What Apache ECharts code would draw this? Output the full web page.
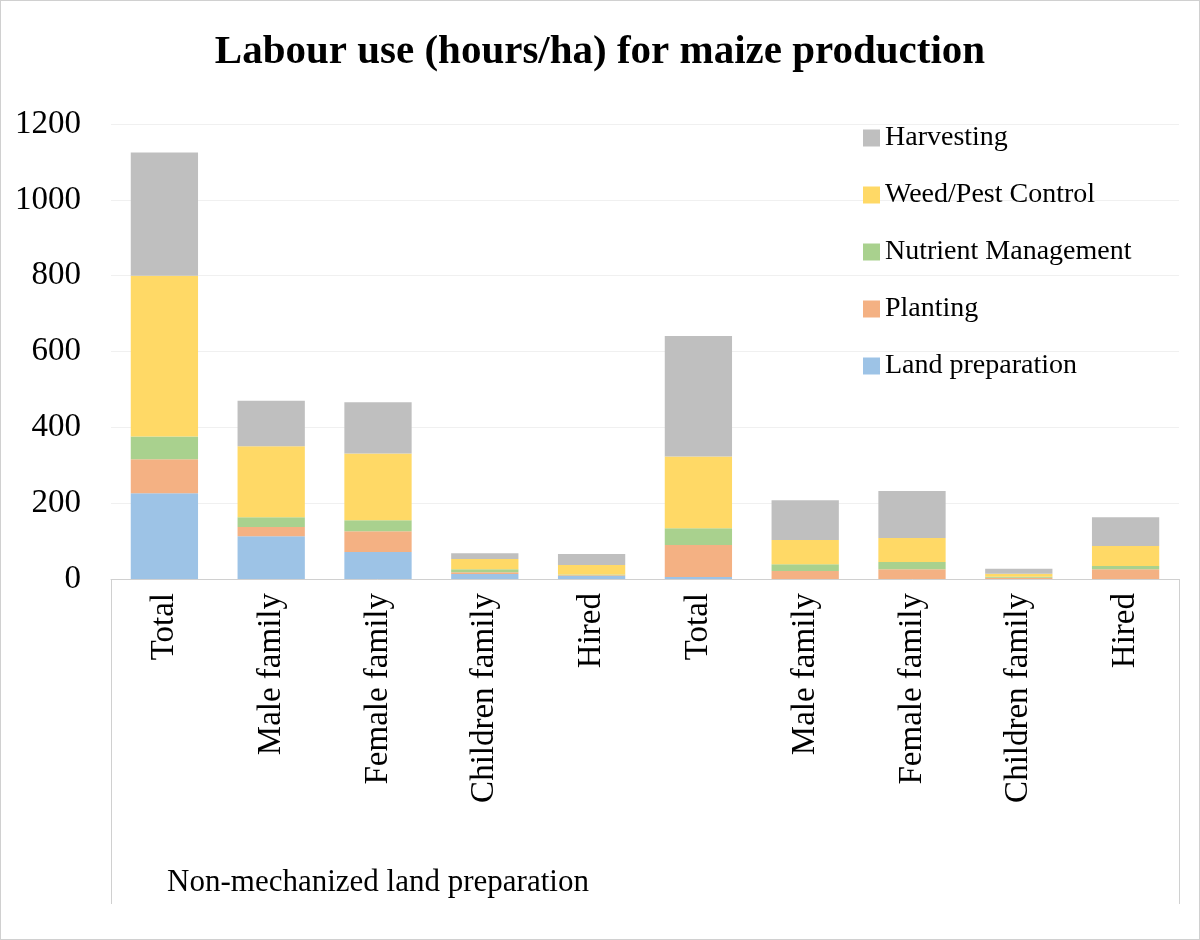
<!DOCTYPE html>
<html><head><meta charset="utf-8">
<script src="https://cdn.jsdelivr.net/npm/echarts@6/dist/echarts.min.js"></script>
<style>html,body{margin:0;padding:0;background:#fff}#c{width:1200px;height:940px;box-sizing:border-box;border:1px solid #d0d0d0}</style>
</head><body><div id="c"></div>
<script>
const categories = ['Total','Male family','Female family','Children family','Hired','Total','Male family','Female family','Children family','Hired'];
const groups = ['Non-mechanized land preparation','Mechanized land preparation'];
const landPrep = [226,113,71,13,8, 5,0,0,0,0];
const planting = [90,24,55,5,2, 85,21,26,3,26];
const nutrient = [60,26,29,8,2, 44,18,19,3,8];
const weedPest = [424,187,176,27,25, 189,64,63,8,53];
const harvesting = [325,120,135,15,29, 318,105,124,13,76];
const yTicks = [0,200,400,600,800,1000,1200];

const F = '"Liberation Serif","Times New Roman",serif';
const chart = echarts.init(document.getElementById('c'));
const mk = (name, data, color) => ({name, type:'bar', stack:'s', data, barCategoryGap:'37%', itemStyle:{color}, xAxisIndex:0});
chart.setOption({
  animation:false,
  title:{text:'Labour use (hours/ha) for maize production', left:'center', top:26, textStyle:{fontFamily:F, fontSize:41, fontWeight:'bold', color:'#000'}},
  legend:{orient:'vertical', left:857, top:118, itemGap:29, itemWidth:17, itemHeight:17, icon:'rect',
    data:['Harvesting','Weed/Pest Control','Nutrient Management','Planting','Land preparation'],
    textStyle:{fontFamily:F, fontSize:28, color:'#000'}},
  grid:{left:110, right:20, top:123, bottom:360},
  xAxis:[
    {type:'category', data:categories, axisLine:{lineStyle:{color:'#d0d0d0'}}, axisTick:{show:false},
     axisLabel:{rotate:90, fontFamily:F, fontSize:33, color:'#000', margin:14}},
    {type:'category', data:groups, position:'bottom', offset:0, axisLine:{show:false},
     axisTick:{show:true, length:325, lineStyle:{color:'#d0d0d0'}},
     axisLabel:{fontFamily:F, fontSize:31, color:'#000', margin:288}}
  ],
  yAxis:{type:'value', min:yTicks[0], max:yTicks[yTicks.length-1], interval:200,
    axisLine:{show:false}, axisTick:{show:false}, splitLine:{lineStyle:{color:'#f0f0f0'}},
    axisLabel:{fontFamily:F, fontSize:33, color:'#000', margin:30, formatter:v=>String(v)}},
  series:[
    mk('Land preparation', landPrep, '#9dc3e6'),
    mk('Planting', planting, '#f4b183'),
    mk('Nutrient Management', nutrient, '#a9d18e'),
    mk('Weed/Pest Control', weedPest, '#ffd966'),
    mk('Harvesting', harvesting, '#bfbfbf')
  ]
});
</script></body></html>
